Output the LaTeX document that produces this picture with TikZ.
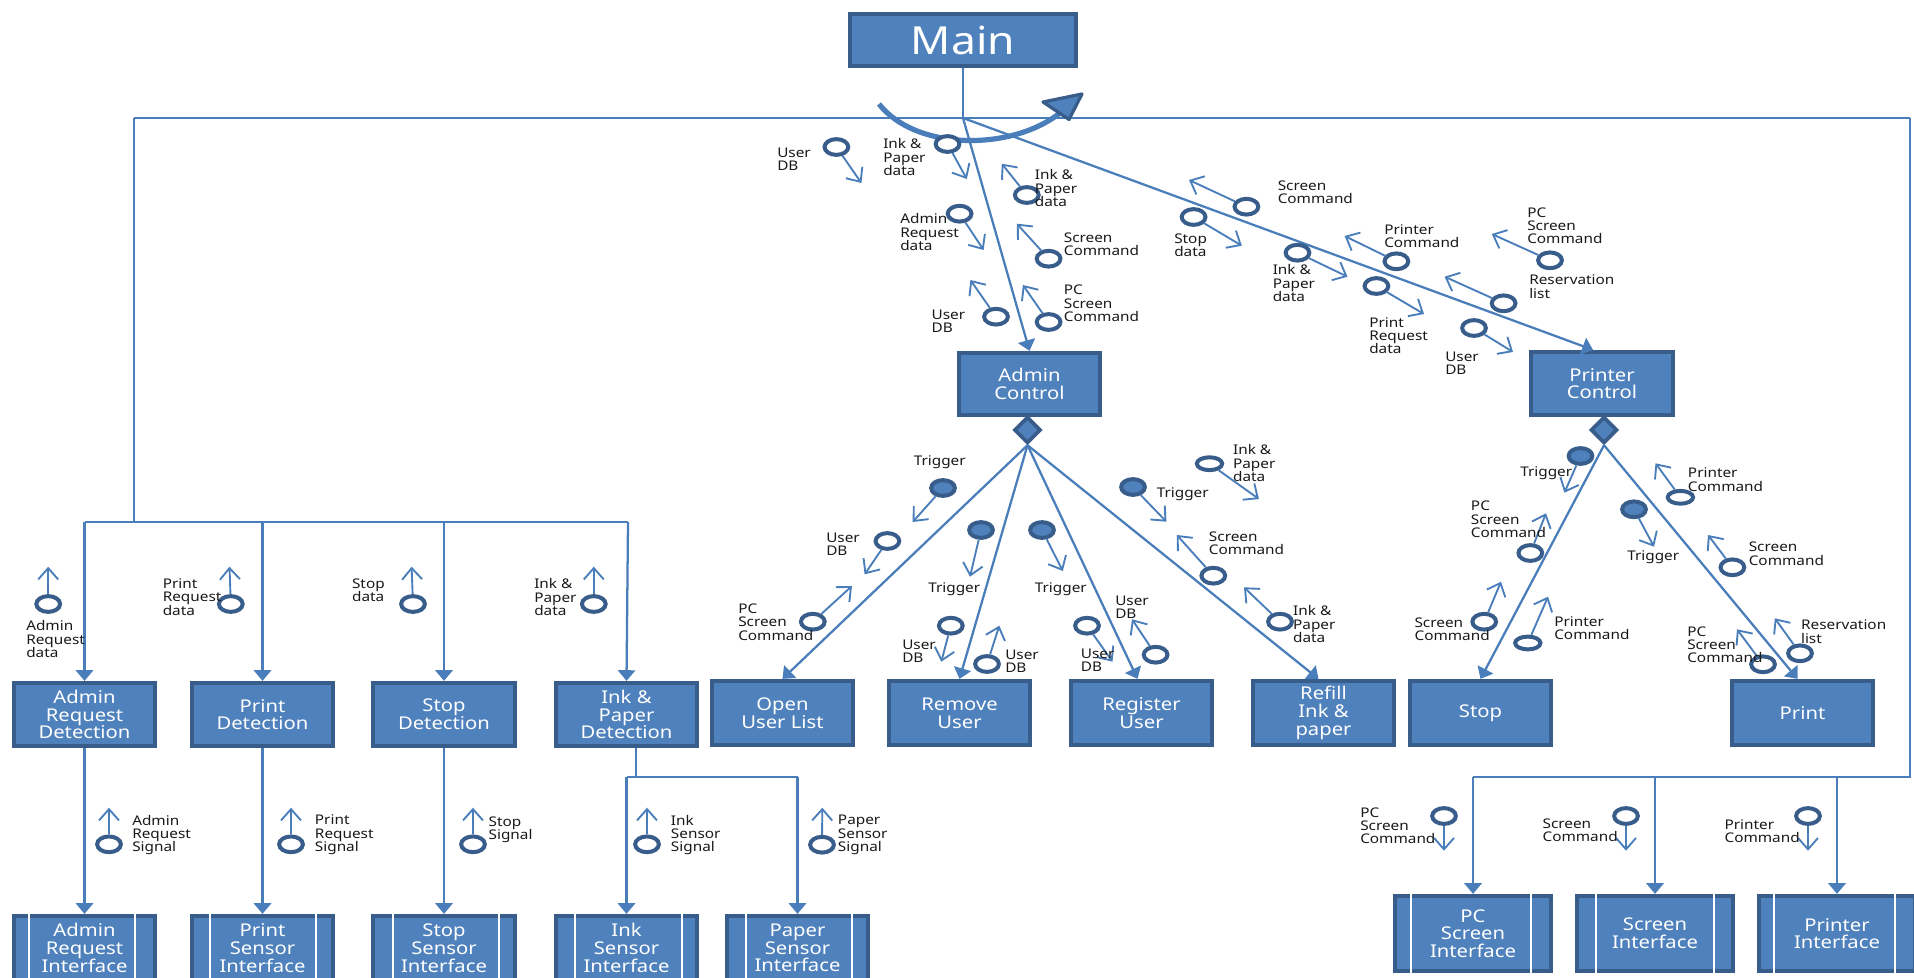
\documentclass[tikz,border=0pt]{standalone}
\usepackage{fontspec}
\setmainfont[FakeStretch=1.15]{Noto Sans}
\usetikzlibrary{arrows.meta,shapes.geometric,calc}
\definecolor{bfill}{HTML}{4F81BD}
\definecolor{bdark}{HTML}{385D8A}
\definecolor{bline}{HTML}{4A7EBB}
\tikzset{
  boxbase/.style={draw=bdark,fill=bfill,line width=2.8pt,text=white,align=center,inner sep=0pt,
     font=\fontsize{13.2}{13.3}\selectfont},
  conn/.style={draw=bline,line width=1.7pt},
  connarrow/.style={conn,-{Triangle[length=8pt,width=13pt]}},
  cplbase/.style={shape=ellipse,draw=bdark,line width=3pt,minimum width=17.8pt,minimum height=11.8pt,inner sep=0pt},
  cplopen/.style={cplbase,fill=white},
  cplflag/.style={cplbase,fill=bfill},
  cplflat/.style={minimum width=19pt,minimum height=9.6pt},
  cplarrow/.style={draw=bline,line width=1.4pt,-{Straight Barb[length=8.5pt,width=15pt]}},
  lab/.style={anchor=west,align=left,inner sep=0pt,text=black!90,font=\fontsize{10}{10}\selectfont},
  dia/.style={shape=diamond,draw=bdark,fill=bfill,line width=2.8pt,minimum size=20pt,inner sep=0pt}
}
% name x1 y1 x2 y2 text
\newcommand\pbox[7][]{%
  \pgfmathsetmacro\bw{(#5-#3)*0.75-2.6}\pgfmathsetmacro\bh{(#6-#4)*0.75-2.6}%
  \node[boxbase,minimum width=\bw pt,minimum height=\bh pt,#1] (#2) at ({(#3+#5)/2},{(#4+#6)/2}) {#7};}
% name x1 y1 x2 y2 stripe1 stripe2 text
\newcommand\ibox[8]{%
  \pbox{#1}{#2}{#3}{#4}{#5}{#8}%
  \draw[white,line width=1.5pt] (#6,#3-2) -- (#6,#5+2) (#7,#3-2) -- (#7,#5+2);}
\newcommand\cpl[6][cplopen]{%
  \node[#1] (#2) at (#3,#4) {};
  \coordinate (#2t) at (#5,#6);
  \draw[cplarrow] (#2) -- (#2t);}
\newcommand\lbl[4]{\node[lab] (#1) at (#2,#3) {#4};}
\begin{document}
\begin{tikzpicture}[x=0.75pt,y=-0.75pt]
\useasboundingbox (0,0) rectangle (1914,978);
\clip (0,0) rectangle (1914,978);
\fill[white] (0,0) rectangle (1914,978);
% boxes
\pbox[font=\fontsize{29}{30}\selectfont]{main}{848}{12}{1078}{68}{Main}
\pbox{actl}{957}{351}{1102}{417}{Admin\\Control}
\pbox{pctl}{1529}{350}{1675}{417}{Printer\\Control}
\node[dia] (adia) at (1027.5,430) {};
\node[dia] (pdia) at (1604,430) {};
\pbox{oul}{710}{679}{855}{747}{Open\\User List}
\pbox{rmu}{887}{679}{1032}{747}{Remove\\User}
\pbox{reg}{1069}{679}{1214}{747}{Register\\User}
\pbox{ref}{1251}{679}{1396}{747}{Refill\\Ink \&\\paper}
\pbox{stp}{1408}{679}{1553}{747}{Stop}
\pbox{prt}{1730}{679}{1875}{747}{Print}
\pbox{ard}{12}{681}{157}{748}{Admin\\Request\\Detection}
\pbox{prd}{190}{681}{335}{748}{Print\\Detection}
\pbox{sd}{371}{681}{517}{748}{Stop\\Detection}
\pbox{ipd}{554}{681}{699}{748}{Ink \&\\Paper\\Detection}
\ibox{ari}{12}{914}{157}{982}{29}{135}{Admin\\Request\\Interface}
\ibox{psi}{190}{914}{335}{982}{210}{316}{Print\\Sensor\\Interface}
\ibox{ssi}{371}{914}{517}{982}{393}{499}{Stop\\Sensor\\Interface}
\ibox{isi}{554}{914}{699}{982}{575}{682}{Ink\\Sensor\\Interface}
\ibox{pasi}{725}{914}{870}{982}{746}{852}{Paper\\Sensor\\Interface}
\ibox{pcsi}{1393}{894}{1553}{973}{1411}{1531}{PC\\Screen\\Interface}
\ibox{sci}{1575}{894}{1735}{973}{1596}{1714}{Screen\\Interface}
\ibox{pri}{1757}{894}{1917}{973}{1774}{1895}{Printer\\Interface}
% bus junctions
\coordinate (hub) at (963,118);
\coordinate (busL) at (134,118);
\coordinate (busR) at (1910,118);
\coordinate (lj) at (134,522);
\coordinate (rj) at (1910,777);
\coordinate (ij) at (636,777);
\coordinate (lb1) at (84.5,522);
\coordinate (lb2) at (262.5,522);
\coordinate (lb3) at (444,522);
\coordinate (lb4) at (628,522);
\coordinate (rb1) at (1473,777);
\coordinate (rb2) at (1655,777);
\coordinate (rb3) at (1837,777);
\coordinate (ib1) at (626.5,777);
\coordinate (ib2) at (797.5,777);
% connectors
\draw[conn] (main.south) -- (hub);
\draw[conn] (busL) -- (busR);
\draw[conn] (busL) -- (lj);
\draw[conn] (lb1) -- (lb4);
\draw[conn] (busR) -- (rj) -- (rb1);
\draw[connarrow] (hub) -- (actl.north);
\draw[connarrow] (hub) -- ($(pctl.north)+(-9,0)$);
\draw[connarrow] (lb1) -- (ard.north);
\draw[connarrow] (lb2) -- (prd.north);
\draw[connarrow] (lb3) -- (sd.north);
\draw[connarrow] (lb4) -- (ipd.north);
\draw[connarrow] (ard.south) -- (ari.north);
\draw[connarrow] (prd.south) -- (psi.north);
\draw[connarrow] (sd.south) -- (ssi.north);
\draw[conn] ($(ipd.south)+(9.5,0)$) -- (ij);
\draw[conn] (ib1) -- (ib2);
\draw[connarrow] (ib1) -- (isi.north);
\draw[connarrow] (ib2) -- (pasi.north);
\draw[connarrow] (rb1) -- (pcsi.north);
\draw[connarrow] (rb2) -- (sci.north);
\draw[connarrow] (rb3) -- (pri.north);
\draw[connarrow] (adia.south) -- (oul.north);
\draw[connarrow] (adia.south) -- (rmu.north);
\draw[connarrow] (adia.south) -- ($(reg.north)+(-4,0)$);
\draw[connarrow] (adia.south) -- ($(ref.north)+(-5,0)$);
\draw[connarrow] (pdia.south) -- (stp.north);
\draw[connarrow] (pdia.south) -- ($(prt.north)+(-5,0)$);
% iteration arc
\draw[bline,line width=3.9pt] (879,104) .. controls (915,150) and (1010,152) .. (1060,113);
\draw[bdark,fill=bfill,line width=2.4pt,line join=round] (1082,94) -- (1043,102) -- (1069,119.5) -- cycle;
% couples: main to admin control
\cpl{c1}{836.4}{147}{861.4}{183}
\cpl{c2}{947.5}{144}{966.8}{179}
\cpl{c3}{959.6}{213.7}{983.6}{250}
\cpl{c4}{1026.8}{195}{1001.8}{163.7}
\cpl{c5}{1048.6}{258.7}{1016.8}{223.7}
\cpl{c6}{1048.6}{322}{1022.9}{285}
\cpl{c7}{996}{316.7}{970.4}{280}
% main to printer control
\cpl{c8}{1193.6}{217}{1241.8}{245.7}
\cpl{c9}{1246.4}{206.7}{1189}{180}
\cpl{c10}{1297.5}{252.7}{1347.5}{276.7}
\cpl{c11}{1396.4}{261.3}{1344.6}{236}
\cpl{c12}{1550}{260.3}{1491.8}{234}
\cpl{c13}{1503.6}{303.3}{1444.6}{276.7}
\cpl{c14}{1376.4}{286}{1424}{314}
\cpl{c15}{1474}{328}{1513}{352}
% admin control children
\cpl[cplflag]{c16}{943}{488}{912.7}{522}
\cpl{c17}{887.4}{541}{864.6}{574.3}
\cpl{c18}{812.8}{621.7}{852}{586}
\cpl[cplflag]{c19}{981}{530}{970}{576.7}
\cpl[cplflag]{c20}{1042}{530}{1062.8}{571}
\cpl{c21}{950.8}{625.7}{941.3}{661.7}
\cpl{c22}{987}{664}{999.3}{625.7}
\cpl{c23}{1087}{625.7}{1112.5}{661.7}
\cpl{c24}{1155.6}{654.7}{1132}{619.3}
\cpl[cplflag]{c25}{1133}{487}{1166.4}{521.7}
\cpl[cplopen,cplflat]{c26}{1209.5}{463.7}{1258.9}{499}
\cpl{c27}{1213.3}{575.7}{1176.8}{535}
\cpl{c28}{1280}{621.7}{1244}{587.3}
% printer control children
\cpl[cplflag]{c29}{1580.5}{456}{1564.4}{492.7}
\cpl{c30}{1530.3}{553}{1546}{513.3}
\cpl{c31}{1484.2}{621.7}{1501}{581.7}
\cpl[cplopen,cplflat]{c32}{1527.8}{643}{1548}{596.7}
\cpl[cplopen,cplflat]{c33}{1680.4}{497.3}{1655.5}{463.3}
\cpl[cplflag]{c34}{1634}{509.3}{1654}{546.7}
\cpl{c35}{1732.4}{567.3}{1708}{535}
\cpl{c36}{1763}{664.3}{1737}{629.3}
\cpl{c37}{1800}{653.3}{1774.8}{618.3}
% detection couples
\cpl{c38}{48.2}{604}{48.2}{566.7}
\cpl{c39}{230.8}{604}{229.5}{566.7}
\cpl{c40}{413}{604}{411.6}{566.7}
\cpl{c41}{593.8}{604}{593.8}{566.7}
\cpl{c42}{109}{844.3}{109}{807.7}
\cpl{c43}{291}{844.3}{291}{807.7}
\cpl{c44}{473}{844.3}{473}{807.7}
\cpl{c45}{647}{844.3}{647}{807.7}
\cpl{c46}{822}{844.7}{822.3}{807.7}
\cpl{c47}{1444}{816}{1444}{850.7}
\cpl{c48}{1626}{816}{1626}{850.7}
\cpl{c49}{1808}{816}{1808}{850.7}
% labels
\lbl{l1}{777}{159}{User\\DB}
\lbl{l2}{883}{157}{Ink \&\\Paper\\data}
\lbl{l3}{900}{232}{Admin\\Request\\data}
\lbl{l4}{1034.6}{188}{Ink \&\\Paper\\data}
\lbl{l5}{1063.6}{244}{Screen\\Command}
\lbl{l6}{1063.6}{303.5}{PC\\Screen\\Command}
\lbl{l7}{931.4}{321}{User\\DB}
\lbl{l8}{1174}{245}{Stop\\data}
\lbl{l9}{1277.5}{192}{Screen\\Command}
\lbl{l10}{1272.5}{283}{Ink \&\\Paper\\data}
\lbl{l11}{1384}{236}{Printer\\Command}
\lbl{l12}{1527}{225.7}{PC\\Screen\\Command}
\lbl{l13}{1529}{286.5}{Reservation\\list}
\lbl{l14}{1369}{335.7}{Print\\Request\\data}
\lbl{l15}{1445}{363.5}{User\\DB}
\lbl{l16}{913.5}{462}{Trigger}
\lbl{l17}{826}{544}{User\\DB}
\lbl{l18}{738}{622}{PC\\Screen\\Command}
\lbl{l19}{928}{589}{Trigger}
\lbl{l20}{1034.6}{589}{Trigger}
\lbl{l21}{902}{651}{User\\DB}
\lbl{l22}{1005}{661.5}{User\\DB}
\lbl{l23}{1080.6}{660}{User\\DB}
\lbl{l24}{1115}{607}{User\\DB}
\lbl{l25}{1156.5}{494}{Trigger}
\lbl{l26}{1232.8}{463}{Ink \&\\Paper\\data}
\lbl{l27}{1208.7}{543.5}{Screen\\Command}
\lbl{l28}{1292.9}{624}{Ink \&\\Paper\\data}
\lbl{l29}{1520}{473}{Trigger}
\lbl{l30}{1470.7}{519.5}{PC\\Screen\\Command}
\lbl{l31}{1414.3}{629.5}{Screen\\Command}
\lbl{l32}{1554}{628}{Printer\\Command}
\lbl{l33}{1687.7}{479.5}{Printer\\Command}
\lbl{l34}{1627}{557}{Trigger}
\lbl{l35}{1748.5}{553.7}{Screen\\Command}
\lbl{l36}{1687}{644.7}{PC\\Screen\\Command}
\lbl{l37}{1800.8}{631.5}{Reservation\\list}
\lbl{l38}{26}{639}{Admin\\Request\\data}
\lbl{l39}{162.5}{597}{Print\\Request\\data}
\lbl{l40}{351.8}{590}{Stop\\data}
\lbl{l41}{534}{597}{Ink \&\\Paper\\data}
\lbl{l42}{132}{835}{Admin\\Request\\Signal}
\lbl{l43}{314.7}{835}{Print\\Request\\Signal}
\lbl{l44}{488.4}{830}{Stop\\Signal}
\lbl{l45}{670.7}{835}{Ink\\Sensor\\Signal}
\lbl{l46}{837.7}{835}{Paper\\Sensor\\Signal}
\lbl{l47}{1360}{825.7}{PC\\Screen\\Command}
\lbl{l48}{1542.3}{830}{Screen\\Command}
\lbl{l49}{1724.3}{831}{Printer\\Command}
\end{tikzpicture}
\end{document}
